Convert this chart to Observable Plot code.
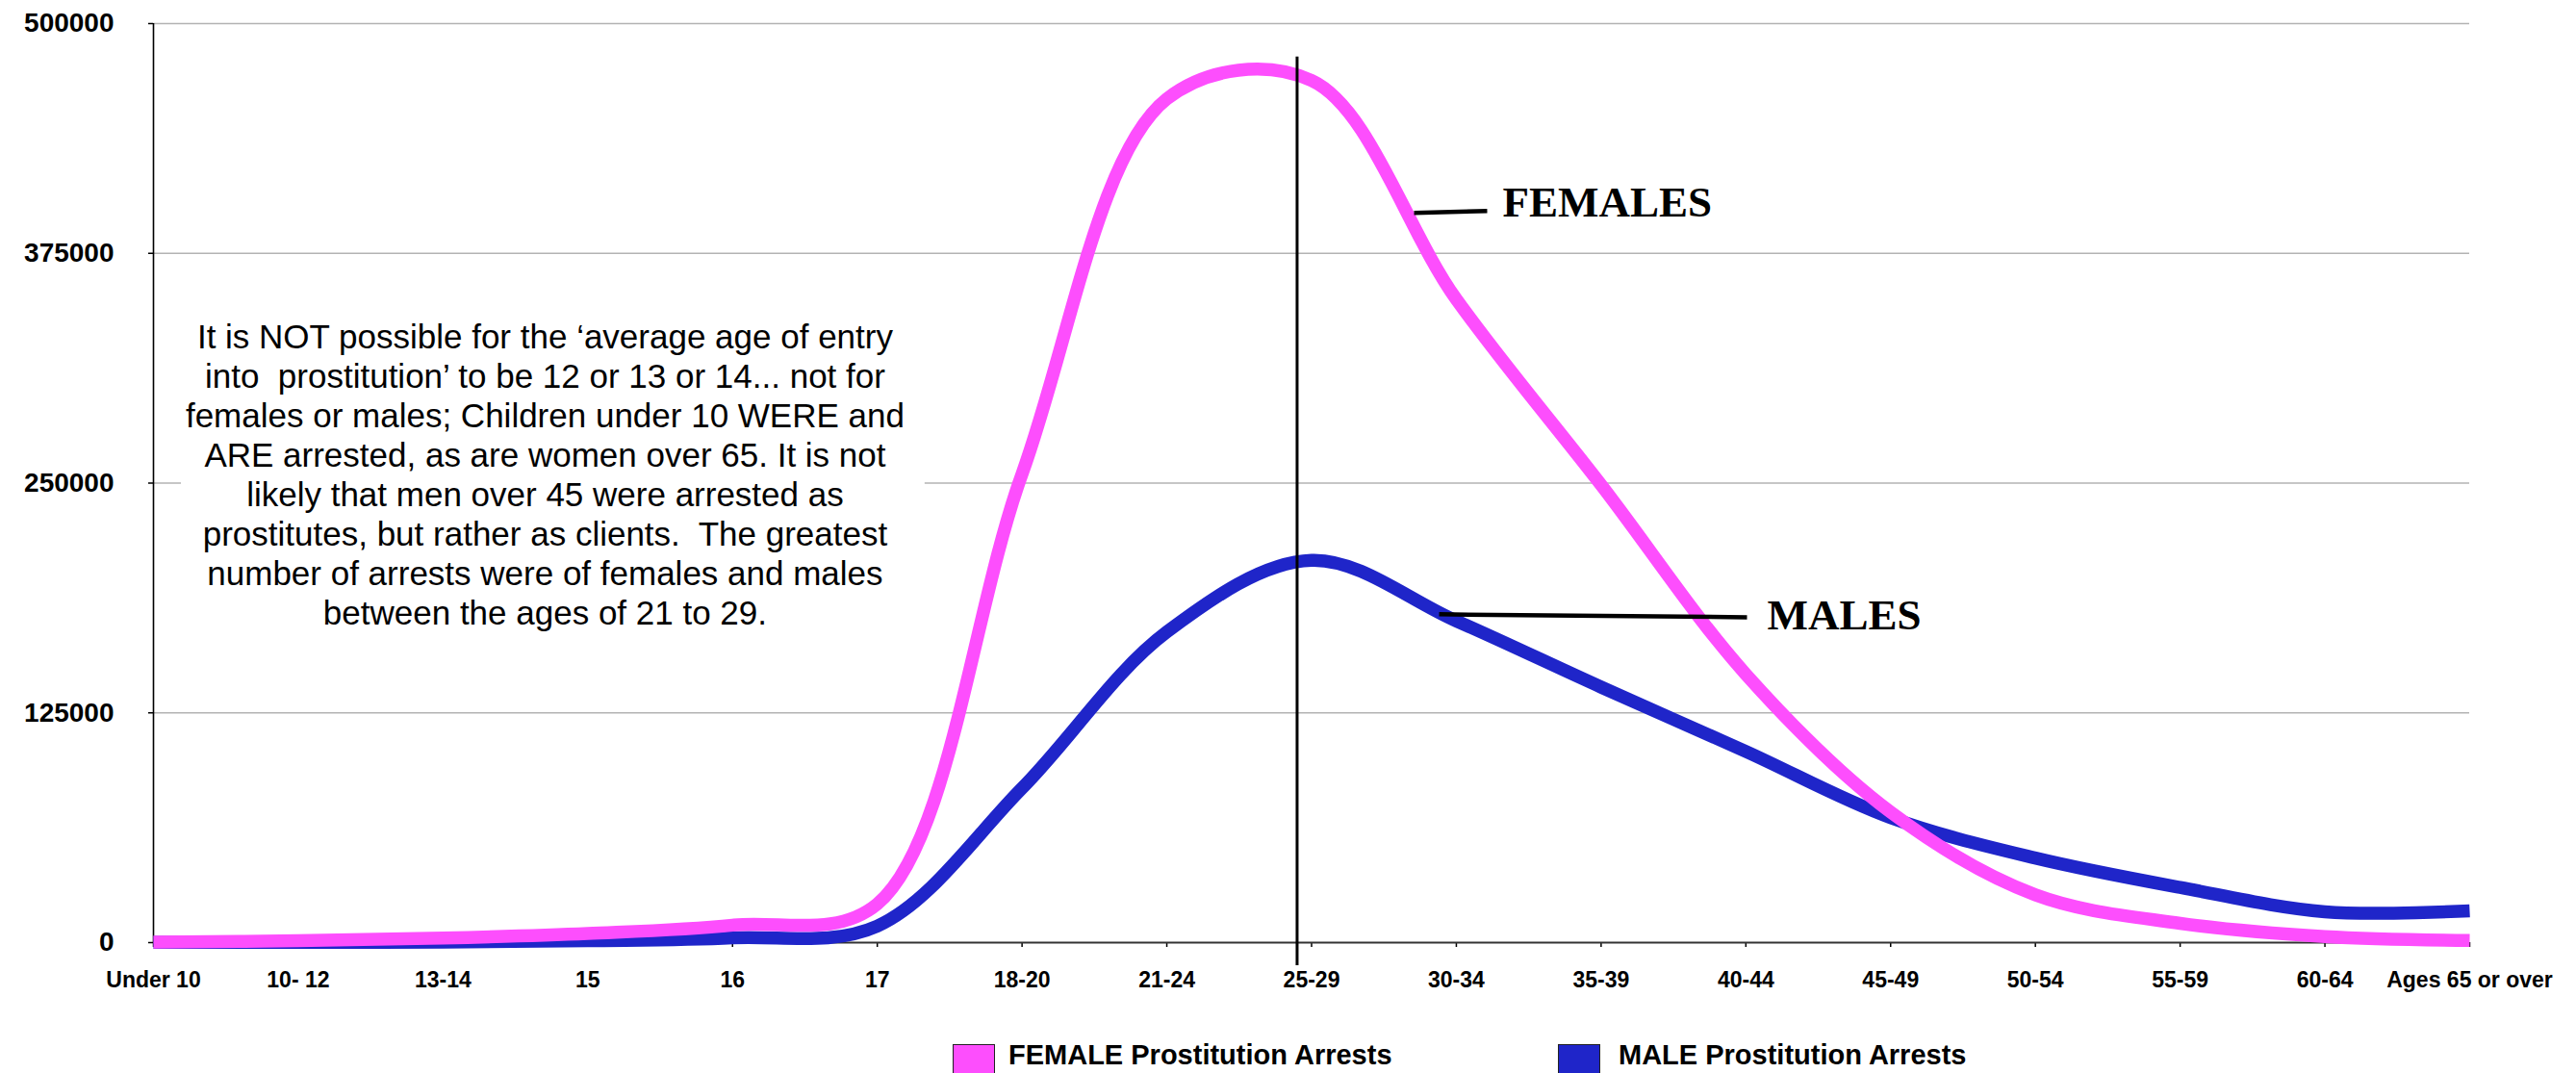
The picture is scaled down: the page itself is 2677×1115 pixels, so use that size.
<!DOCTYPE html>
<html>
<head>
<meta charset="utf-8">
<script src="https://cdn.jsdelivr.net/npm/d3@7"></script>
<script src="https://cdn.jsdelivr.net/npm/@observablehq/plot@0.6"></script>
<style>
  html, body { margin: 0; padding: 0; background: #fff; }
  #wrap { position: relative; width: 2677px; height: 1115px; overflow: hidden; font-family: "Liberation Sans", Arial, sans-serif; }
  #wrap svg { display: block; }
  .sw { position: absolute; width: 44px; height: 44px; border: 1.5px solid #222; box-sizing: border-box; }
  .lt { position: absolute; font-weight: bold; font-size: 29px; line-height: 29px; color: #000; white-space: nowrap; }
</style>
</head>
<body>
<div id="wrap"></div>
<script>
// ---- data ----
const ages = ["Under 10", "10- 12", "13-14", "15", "16", "17", "18-20", "21-24", "25-29",
              "30-34", "35-39", "40-44", "45-49", "50-54", "55-59", "60-64", "Ages 65 or over"];
const femaleArrests = [300, 1000, 2500, 5000, 9500, 21000, 255000, 459000, 469000,
                       350000, 249000, 146000, 71000, 26000, 10500, 3300, 1200];
const maleArrests = [100, 100, 300, 1000, 2600, 9000, 84000, 169000, 208000,
                     175000, 139000, 104000, 68000, 46000, 30000, 16800, 17300];
const yTicks = [0, 125000, 250000, 375000, 500000];
const legendLabels = ["FEMALE Prostitution Arrests", "MALE Prostitution Arrests"];
const noteLines = [
  "It is NOT possible for the \u2018average age of entry",
  "into  prostitution\u2019 to be 12 or 13 or 14... not for",
  "females or males; Children under 10 WERE and",
  "ARE arrested, as are women over 65. It is not",
  "likely that men over 45 were arrested as",
  "prostitutes, but rather as clients.  The greatest",
  "number of arrests were of females and males",
  "between the ages of 21 to 29."
];

const PINK = "#fd4efd";
const BLUE = "#1f25c9";

const femaleRows = ages.map((a, i) => ({i, age: a, v: femaleArrests[i]}));
const maleRows = ages.map((a, i) => ({i, age: a, v: maleArrests[i]}));

const chart = Plot.plot({
  width: 2677,
  height: 1062,
  marginLeft: 159,
  marginRight: 111,
  marginTop: 24,
  marginBottom: 83,
  style: {fontFamily: "'Liberation Sans', Arial, sans-serif", background: "#fff"},
  x: {domain: [0, ages.length - 1], axis: null},
  y: {domain: [0, 500000], axis: null},
  marks: [
    Plot.ruleY(yTicks.filter(d => d > 0), {stroke: "#b3b3b3", strokeWidth: 1.6}),
    // white box behind the note
    Plot.rect([0], {x1: 0.193, x2: 5.33, y1: 140000, y2: 360000, fill: "white"}),
    Plot.axisY({ticks: yTicks, label: null, tickSize: 5, tickPadding: 36, fontSize: 28, fontWeight: "bold",
                tickFormat: d3.format("d"), stroke: "#000", strokeWidth: 1.5, fill: "#000"}),
    Plot.axisX({ticks: d3.range(ages.length), label: null, tickFormat: i => ages[i], tickSize: 5, tickPadding: 25,
                fontSize: 23, fontWeight: "bold", stroke: "#000", strokeWidth: 1.5, fill: "#000"}),
    Plot.ruleX([0], {y1: 0, y2: 500000, stroke: "#000", strokeWidth: 1.6}),
    Plot.ruleY([0], {stroke: "#333", strokeWidth: 2}),
    Plot.text([noteLines.join("\n")], {x: 2.705, y: 255000, text: d => d, textAnchor: "middle",
               lineAnchor: "middle", lineHeight: 41 / 35, fontSize: 35, fill: "#000"}),
    Plot.line(maleRows, {x: "i", y: "v", stroke: BLUE, strokeWidth: 13.5, curve: "catmull-rom",
                         strokeLinejoin: "round", strokeLinecap: "butt"}),
    Plot.line(femaleRows, {x: "i", y: "v", stroke: PINK, strokeWidth: 13.5, curve: "catmull-rom",
                           strokeLinejoin: "round", strokeLinecap: "butt"}),
    Plot.ruleX([7.9], {y1: -12600, y2: 481800, stroke: "#000", strokeWidth: 3}),
    Plot.link([0], {x1: 8.708, y1: 397000, x2: 9.213, y2: 398000, stroke: "#000", strokeWidth: 4.5}),
    Plot.link([0], {x1: 8.881, y1: 178600, x2: 11.008, y2: 177000, stroke: "#000", strokeWidth: 4.5}),
    Plot.text(["FEMALES"], {x: 9.319, y: 402700, text: d => d, textAnchor: "start", lineAnchor: "middle",
               fontSize: 45, fontWeight: "bold", fontFamily: "'Liberation Serif', 'Times New Roman', serif", fill: "#000"}),
    Plot.text(["MALES"], {x: 11.147, y: 177900, text: d => d, textAnchor: "start", lineAnchor: "middle",
               fontSize: 45, fontWeight: "bold", fontFamily: "'Liberation Serif', 'Times New Roman', serif", fill: "#000"})
  ]
});

const wrap = document.getElementById("wrap");
wrap.appendChild(chart);

// legend below the chart
const legendItems = [
  {label: legendLabels[0], color: PINK, sx: 990, tx: 1048},
  {label: legendLabels[1], color: BLUE, sx: 1619, tx: 1682}
];
for (const it of legendItems) {
  const sw = document.createElement("div");
  sw.className = "sw";
  sw.style.left = it.sx + "px";
  sw.style.top = "1085px";
  sw.style.background = it.color;
  wrap.appendChild(sw);
  const t = document.createElement("div");
  t.className = "lt";
  t.style.left = it.tx + "px";
  t.style.top = "1082px";
  t.textContent = it.label;
  wrap.appendChild(t);
}
</script>
</body>
</html>
